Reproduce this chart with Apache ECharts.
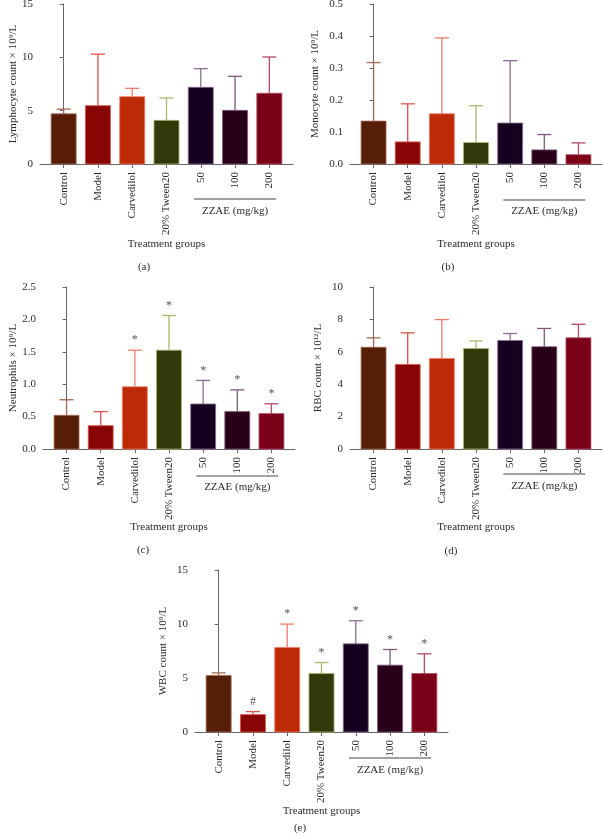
<!DOCTYPE html>
<html>
<head>
<meta charset="utf-8">
<script src="https://cdn.jsdelivr.net/npm/echarts@6/dist/echarts.min.js"></script>
<style>
html,body{margin:0;padding:0;background:#fff;}
#chart{width:603px;height:838px;}
</style>
</head>
<body>
<div id="chart"></div>
<script>
// ---- data ----
const categories = ['Control', 'Model', 'Carvedilol', '20% Tween20', '50', '100', '200'];

const lymphMean = [4.7, 5.47, 6.31, 4.09, 7.19, 5.03, 6.63];
const lymphSD   = [0.45, 4.83, 0.78, 2.1, 1.75, 3.19, 3.4];

const monoMean = [0.134, 0.069, 0.157, 0.067, 0.128, 0.044, 0.029];
const monoSD   = [0.183, 0.119, 0.237, 0.115, 0.195, 0.048, 0.037];

const neutMean = [0.52, 0.36, 0.96, 1.525, 0.695, 0.577, 0.546];
const neutSD   = [0.24, 0.217, 0.565, 0.535, 0.363, 0.335, 0.152];
const neutMarks = ['', '', '*', '*', '*', '*', '*'];

const rbcMean = [6.28, 5.22, 5.59, 6.2, 6.7, 6.31, 6.86];
const rbcSD   = [0.58, 1.95, 2.4, 0.47, 0.43, 1.13, 0.84];

const wbcMean = [5.23, 1.61, 7.83, 5.41, 8.16, 6.19, 5.41];
const wbcSD   = [0.24, 0.28, 2.16, 1.02, 2.14, 1.45, 1.83];
const wbcMarks = ['', '#', '*', '*', '*', '*', '*'];

const noMarks = ['', '', '', '', '', '', ''];

const barColors   = ['#561d07', '#870505', '#bd2a06', '#31380a', '#15011f', '#28001a', '#7b0119'];
const lightColors = ['#a06852', '#e0504a', '#f47a66', '#a9b86a', '#8a6d90', '#7d5a76', '#b04862'];

const FONT = '"Liberation Serif", "DejaVu Serif", serif';
const FS = 11;
const TXT = '#2a2a2a';
const AX = '#666';

const panels = [
  {name: 'Lymphocyte count \u00d7 10\u2079/L', mean: lymphMean, sd: lymphSD, marks: noMarks,
   rect: {left: 40, top: 4, width: 253, height: 160}, ymax: 15, yint: 5, dec: 0, nameGap: 21, xGap: 75,
   lineOff: 35, textOff: 47, label: '(a)', lx: 144, ly: 267},
  {name: 'Monocyte count \u00d7 10\u2079/L', mean: monoMean, sd: monoSD, marks: noMarks,
   rect: {left: 350, top: 4, width: 252, height: 160}, ymax: 0.5, yint: 0.1, dec: 1, nameGap: 29, xGap: 75,
   lineOff: 36, textOff: 47, label: '(b)', lx: 448, ly: 267},
  {name: 'Neutrophils \u00d7 10\u2079/L', mean: neutMean, sd: neutSD, marks: neutMarks,
   rect: {left: 43, top: 287, width: 252, height: 162}, ymax: 2.5, yint: 0.5, dec: 1, nameGap: 24, xGap: 73,
   lineOff: 27, textOff: 38, label: '(c)', lx: 143, ly: 550},
  {name: 'RBC count \u00d7 10\u00b9\u00b2/L', mean: rbcMean, sd: rbcSD, marks: noMarks,
   rect: {left: 350, top: 287, width: 252, height: 162}, ymax: 10, yint: 2, dec: 0, nameGap: 26, xGap: 73,
   lineOff: 25, textOff: 37, label: '(d)', lx: 451, ly: 551},
  {name: 'WBC count \u00d7 10\u2079/L', mean: wbcMean, sd: wbcSD, marks: wbcMarks,
   rect: {left: 195, top: 570, width: 253, height: 162}, ymax: 15, yint: 5, dec: 0, nameGap: 26, xGap: 74,
   lineOff: 26, textOff: 38, label: '(e)', lx: 300, ly: 828}
];

const grid = [], xAxis = [], yAxis = [], series = [], graphic = [];

panels.forEach((p, k) => {
  grid.push(Object.assign({containLabel: false, outerBoundsMode: 'none'}, p.rect));
  xAxis.push({
    type: 'value', gridIndex: k, min: -0.69, max: 6.69,
    splitLine: {show: false},
    axisLine: {show: true, lineStyle: {color: AX, width: 1}},
    axisTick: {show: true, length: 4, lineStyle: {color: AX}, customValues: [0, 1, 2, 3, 4, 5, 6]},
    axisLabel: {
      customValues: [0, 1, 2, 3, 4, 5, 6], rotate: 90, margin: 8,
      fontSize: FS, fontFamily: FONT, color: TXT,
      formatter: v => categories[Math.round(v)]
    },
    name: 'Treatment groups', nameLocation: 'middle', nameGap: p.xGap, nameMoveOverlap: false,
    nameTextStyle: {fontSize: FS, fontFamily: FONT, color: TXT}
  });
  yAxis.push({
    type: 'value', gridIndex: k, min: 0, max: p.ymax, interval: p.yint,
    splitLine: {show: false},
    axisLine: {show: true, lineStyle: {color: AX, width: 1}},
    axisTick: {show: true, length: 4, lineStyle: {color: AX}},
    axisLabel: {margin: 7, fontSize: FS, fontFamily: FONT, color: TXT,
      formatter: v => v.toFixed(p.dec)},
    name: p.name, nameLocation: 'middle', nameRotate: 90, nameGap: p.nameGap, nameMoveOverlap: false,
    nameTextStyle: {fontSize: FS, fontFamily: FONT, color: TXT}
  });
  const marks = p.marks;
  series.push({
    type: 'custom', xAxisIndex: k, yAxisIndex: k, clip: false,
    data: p.mean.map((m, i) => [i, m, p.sd[i]]),
    renderItem: (params, api) => {
      const i = api.value(0), m = api.value(1), s = api.value(2);
      const idx = params.dataIndex;
      const base = api.coord([i, 0]);
      const top = api.coord([i, m]);
      const et = api.coord([i, m + s]);
      const bw = api.size([0.73, 0])[0];
      const cw = 14;
      const children = [
        {type: 'rect', shape: {x: base[0] - bw / 2, y: top[1], width: bw, height: base[1] - top[1]},
         style: {fill: barColors[idx], stroke: lightColors[idx], lineWidth: 0.8}},
        {type: 'line', shape: {x1: top[0], y1: top[1], x2: et[0], y2: et[1]},
         style: {stroke: lightColors[idx], lineWidth: 1.3}},
        {type: 'line', shape: {x1: et[0] - cw / 2, y1: et[1], x2: et[0] + cw / 2, y2: et[1]},
         style: {stroke: lightColors[idx], lineWidth: 1.3}}
      ];
      if (marks[idx]) {
        children.push({type: 'text', x: et[0], y: et[1] - 4,
          style: {text: marks[idx], fill: '#555', font: '12px ' + FONT, align: 'center', verticalAlign: 'bottom'}});
      }
      return {type: 'group', children};
    }
  });
  // ZZAE bracket under the dose labels
  series.push({
    type: 'custom', xAxisIndex: k, yAxisIndex: k, clip: false,
    data: [[3.8, 6.2]],
    renderItem: (params, api) => {
      const a = api.coord([api.value(0), 0]);
      const b = api.coord([api.value(1), 0]);
      return {type: 'group', children: [
        {type: 'line', shape: {x1: a[0], y1: a[1] + p.lineOff, x2: b[0], y2: b[1] + p.lineOff},
         style: {stroke: '#444', lineWidth: 1}},
        {type: 'text', x: (a[0] + b[0]) / 2, y: a[1] + p.textOff,
         style: {text: 'ZZAE (mg/kg)', fill: TXT, font: FS + 'px ' + FONT, align: 'center', verticalAlign: 'middle'}}
      ]};
    }
  });
  graphic.push({type: 'text', x: p.lx, y: p.ly,
    style: {text: p.label, fill: TXT, font: FS + 'px ' + FONT, align: 'center', verticalAlign: 'middle'}});
});

const chart = echarts.init(document.getElementById('chart'), null, {renderer: 'canvas'});
chart.setOption({animation: false, backgroundColor: '#fff', grid, xAxis, yAxis, series, graphic});
</script>
</body>
</html>
